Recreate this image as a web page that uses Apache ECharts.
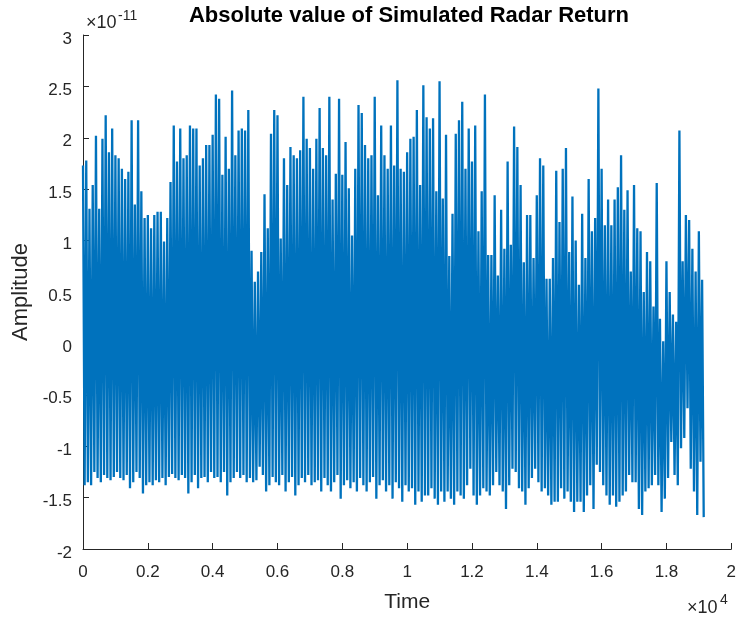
<!DOCTYPE html>
<html><head><meta charset="utf-8">
<script src="https://cdn.jsdelivr.net/npm/echarts@6/dist/echarts.min.js"></script>
<style>html,body{margin:0;padding:0;background:#fff}#c{width:739px;height:619px}</style>
</head><body><div id="c"></div>
<script>
// Amplitude values are in units of 1e-11 (the axis multiplier shown at top-left)
const sampleStep = 100;          // time units between envelope samples
const xTickLabels = ['0','0.2','0.4','0.6','0.8','1','1.2','1.4','1.6','1.8','2'];
const yTickLabels = ['-2','-1.5','-1','-0.5','0','0.5','1','1.5','2','2.5','3'];
const titleText = 'Absolute value of Simulated Radar Return';

// upper peaks of the signal, one per sample step
const upperPeaks = [
 1.73,1.78,1.31,1.54,2.02,1.31,1.99,2.22,1.86,2.09,
 1.83,1.80,1.70,1.60,1.67,2.17,1.35,2.17,1.48,1.22,
 1.25,1.12,1.25,1.28,1.28,0.99,1.22,1.57,2.12,1.77,
 2.09,1.80,1.83,2.12,2.09,2.09,1.73,1.80,1.93,1.93,
 2.03,2.42,2.38,1.64,2.01,1.70,2.46,1.83,2.07,2.09,
 2.07,2.27,0.90,0.60,0.70,0.89,1.45,1.12,2.04,2.27,
 2.22,1.02,1.80,1.54,1.91,1.83,1.80,1.88,2.40,1.99,
 1.90,1.70,1.99,2.29,1.90,1.83,2.40,1.40,1.65,2.38,
 1.64,1.96,1.51,1.05,1.70,2.32,2.24,1.93,1.80,1.83,
 2.40,1.44,2.12,1.83,1.70,2.12,1.73,2.56,1.70,1.67,
 1.86,1.99,2.01,2.27,1.54,2.51,2.20,2.09,2.19,1.48,
 2.55,1.41,2.03,0.85,1.26,2.04,2.17,2.35,1.70,2.09,
 1.77,2.12,1.09,1.48,2.42,0.86,0.86,1.44,0.66,1.30,
 0.92,1.77,0.96,2.11,1.91,1.54,0.79,1.25,1.25,0.83,
 1.44,1.80,1.73,0.63,0.63,0.83,1.68,1.18,1.70,1.90,
 0.89,1.43,1.00,0.57,1.26,0.83,1.60,1.09,1.22,2.48,
 1.70,1.15,1.40,1.15,1.40,1.52,1.83,1.30,1.49,0.70,
 1.54,1.12,1.09,0.50,0.89,0.80,0.36,1.56,0.24,0.02,
 0.80,0.50,0.28,0.21,2.07,0.80,1.25,1.20,0.92,0.70,
 1.09,0.62
];
// lower peaks of the signal, one per sample step
const lowerPeaks = [
 -1.38,-1.35,-1.38,-1.25,-1.31,-1.35,-1.28,-1.31,-1.33,-1.30,
 -1.25,-1.31,-1.33,-1.28,-1.41,-1.35,-1.25,-1.31,-1.46,-1.38,
 -1.35,-1.38,-1.33,-1.35,-1.31,-1.38,-1.30,-1.27,-1.31,-1.33,
 -1.28,-1.31,-1.46,-1.35,-1.28,-1.41,-1.31,-1.30,-1.35,-1.25,
 -1.31,-1.30,-1.35,-1.25,-1.48,-1.35,-1.31,-1.25,-1.31,-1.28,
 -1.35,-1.31,-1.35,-1.33,-1.20,-1.28,-1.44,-1.38,-1.30,-1.35,
 -1.38,-1.28,-1.44,-1.35,-1.30,-1.48,-1.38,-1.31,-1.35,-1.28,
 -1.38,-1.35,-1.33,-1.44,-1.31,-1.38,-1.44,-1.35,-1.28,-1.51,
 -1.38,-1.33,-1.41,-1.35,-1.44,-1.31,-1.38,-1.44,-1.35,-1.30,
 -1.51,-1.38,-1.33,-1.44,-1.38,-1.51,-1.35,-1.41,-1.54,-1.38,
 -1.44,-1.41,-1.57,-1.44,-1.54,-1.48,-1.48,-1.41,-1.51,-1.57,
 -1.44,-1.54,-1.44,-1.51,-1.57,-1.44,-1.48,-1.51,-1.38,-1.22,
 -1.48,-1.57,-1.48,-1.41,-1.44,-1.48,-1.38,-1.25,-1.38,-1.44,
 -1.61,-1.38,-1.22,-1.25,-1.41,-1.44,-1.57,-1.41,-1.31,-1.22,
 -1.35,-1.44,-1.41,-1.48,-1.57,-1.54,-1.54,-1.41,-1.51,-1.44,
 -1.54,-1.64,-1.54,-1.54,-1.64,-1.48,-1.38,-1.61,-1.18,-1.25,
 -1.38,-1.48,-1.57,-1.48,-1.59,-1.54,-1.48,-1.44,-1.28,-1.35,
 -1.35,-1.61,-1.67,-1.44,-1.41,-1.38,-1.28,-1.38,-1.64,-1.51,
 -1.31,-0.96,-1.28,-1.38,-1.02,-0.92,-0.63,-1.22,-1.44,-1.67,
 -1.15,-1.69
];

const FONT = '"Liberation Sans", Arial, Helvetica, sans-serif';
const AX = '#262626';

const seriesData = [];
for (let i = 0; i < upperPeaks.length; i++) {
  seriesData.push([i * sampleStep, upperPeaks[i]]);
  seriesData.push([i * sampleStep + sampleStep / 2, lowerPeaks[i]]);
}

const chart = echarts.init(document.getElementById('c'), null, {renderer: 'canvas'});
chart.setOption({
  animation: false,
  backgroundColor: '#ffffff',
  grid: {left: 83, right: 4, top: 35, bottom: 70},
  xAxis: {
    type: 'value', min: 0, max: 20000, interval: 2000,
    name: 'Time', nameLocation: 'middle', nameGap: 43,
    nameTextStyle: {fontFamily: FONT, fontSize: 21, color: AX},
    axisLine: {show: true, onZero: false, lineStyle: {color: AX, width: 1}},
    axisTick: {show: true, inside: true, length: 6, lineStyle: {color: AX}},
    axisLabel: {fontFamily: FONT, fontSize: 17, color: AX, margin: 15,
      formatter: (v) => xTickLabels[Math.round(v / 2000)]},
    splitLine: {show: false}
  },
  yAxis: {
    type: 'value', min: -2, max: 3, interval: 0.5,
    name: 'Amplitude', nameLocation: 'middle', nameGap: 51,
    nameTextStyle: {fontFamily: FONT, fontSize: 22, color: AX},
    axisLine: {show: true, onZero: false, lineStyle: {color: AX, width: 1}},
    axisTick: {show: true, inside: true, length: 6, lineStyle: {color: AX}},
    axisLabel: {color: AX, margin: 11,
      formatter: (v) => '{t|' + yTickLabels[Math.round((v + 2) / 0.5)] + '}',
      rich: {t: {fontFamily: FONT, fontSize: 17, color: AX, padding: [8, 0, 0, 0]}}},
    splitLine: {show: false}
  },
  graphic: [
    {type: 'text', x: 409, y: 16,
     style: {text: titleText, font: 'bold 22px ' + FONT, fill: '#000',
             textAlign: 'center', textVerticalAlign: 'middle'}},
    {type: 'text', x: 86, y: 23,
     style: {text: '×10', font: '18px ' + FONT, fill: AX, textVerticalAlign: 'middle'}},
    {type: 'text', x: 118, y: 16,
     style: {text: '-11', font: '14px ' + FONT, fill: AX, textVerticalAlign: 'middle'}},
    {type: 'text', x: 687, y: 608,
     style: {text: '×10', font: '18px ' + FONT, fill: AX, textVerticalAlign: 'middle'}},
    {type: 'text', x: 720, y: 600,
     style: {text: '4', font: '14px ' + FONT, fill: AX, textVerticalAlign: 'middle'}}
  ],
  series: [{
    type: 'line',
    data: seriesData,
    showSymbol: false,
    symbol: 'none',
    lineStyle: {color: '#0072BD', width: 2.3},
    sampling: null,
    silent: true
  }]
});
</script>
</body></html>
